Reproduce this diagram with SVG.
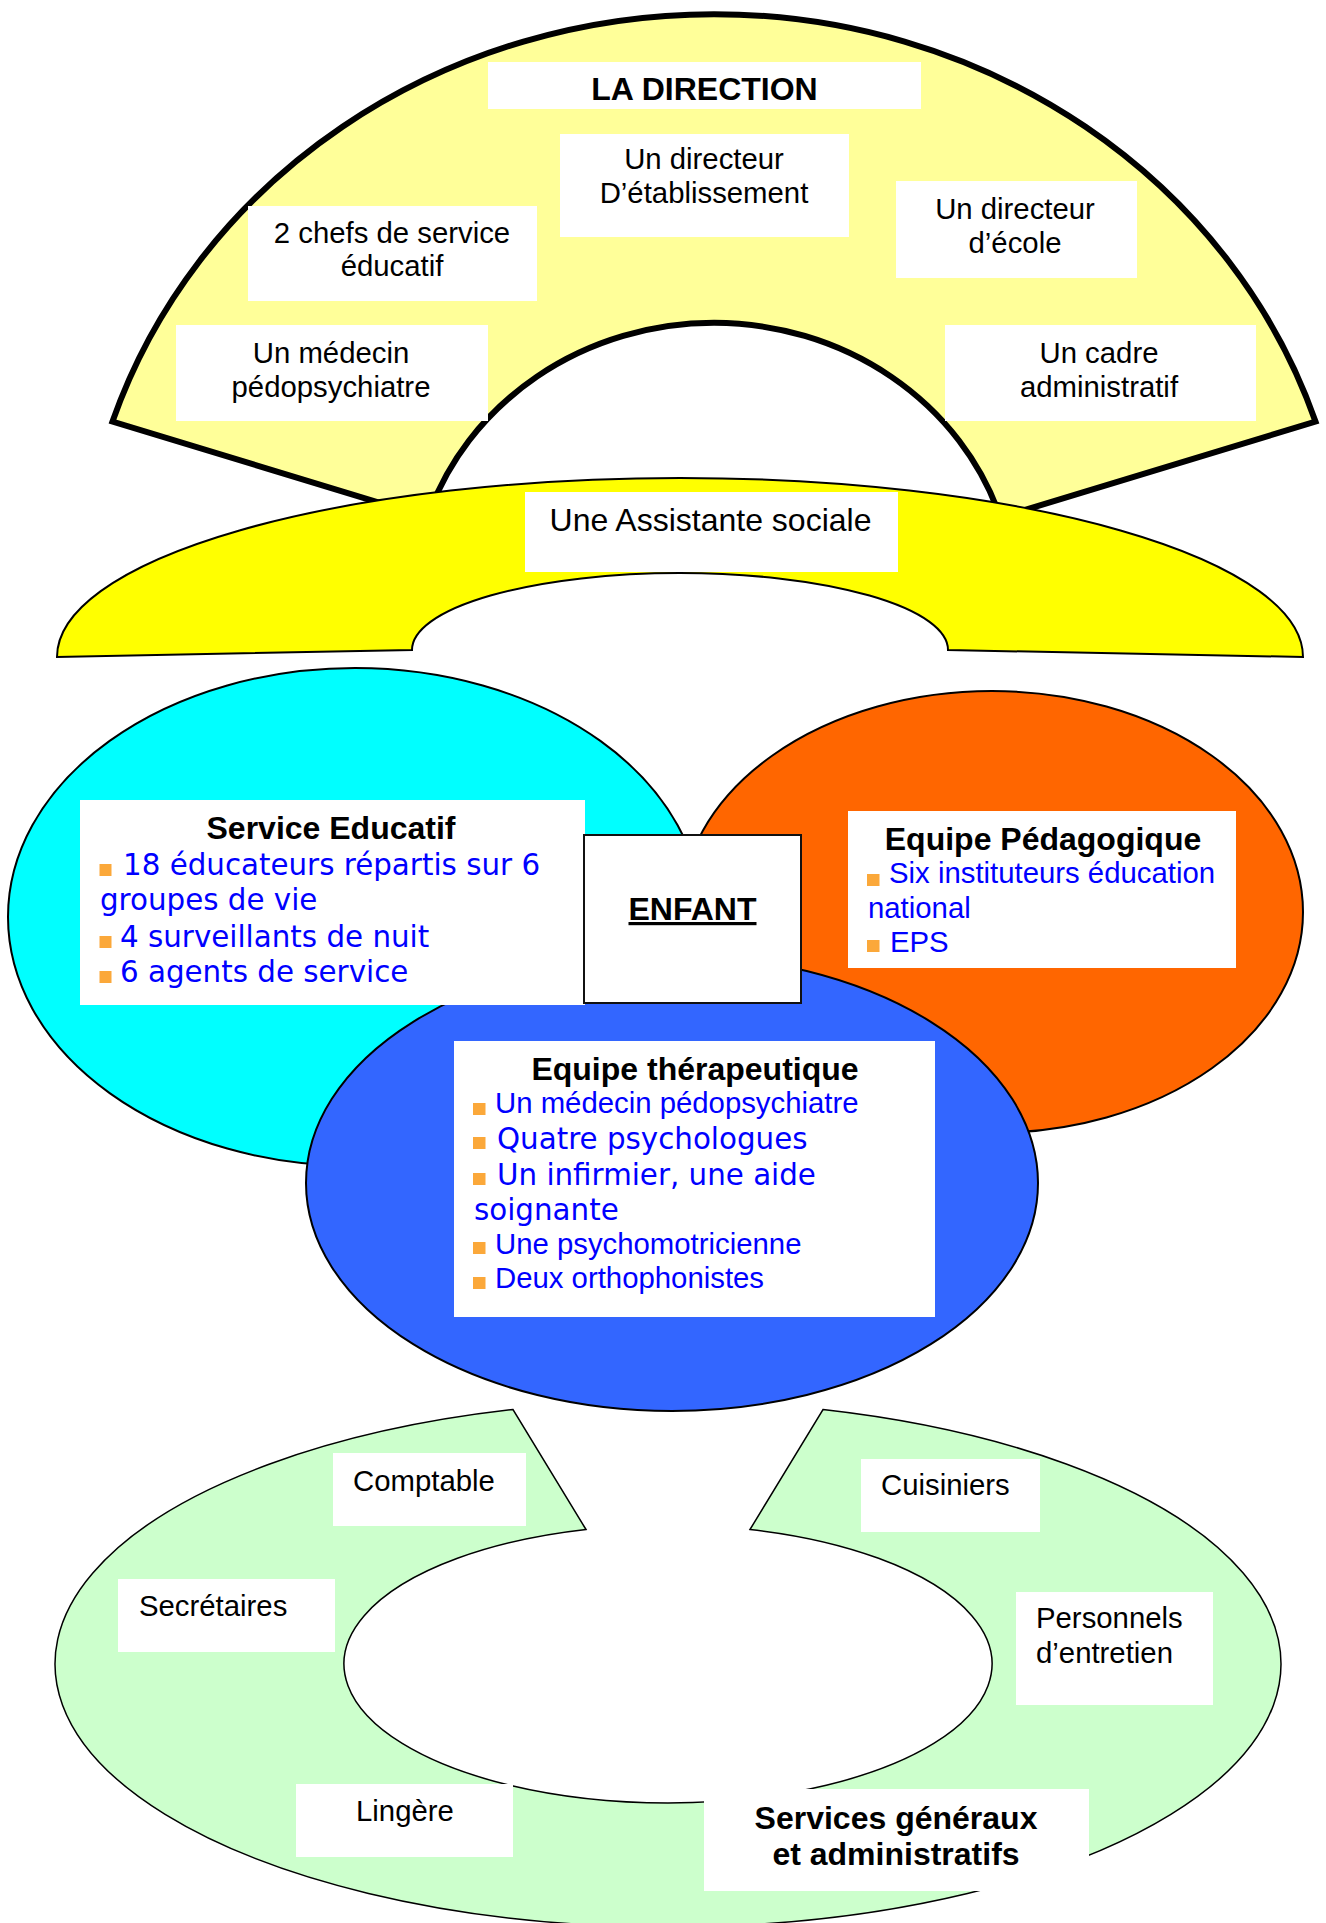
<svg xmlns="http://www.w3.org/2000/svg" width="1326" height="1923" viewBox="0 0 1326 1923">
<style>
.box{fill:#ffffff}
.t{font-family:"Liberation Sans",Arial,Helvetica,sans-serif;font-size:29.33px;fill:#000000}
.c{text-anchor:middle}
.b{font-weight:bold;font-size:32px}
.blue{fill:#0000ff}
.v{font-family:"DejaVu Sans",Verdana,sans-serif;font-size:29.33px}
.bul{fill:#fba83a}
.thin{stroke:#000000;stroke-width:2}
</style>
<rect width="1326" height="1923" fill="#ffffff"/>

<g id="direction">
  <path d="M112.5,421.6 A632.8,591 0 0 1 1315.5,421.6 L1000.4,517.4 A301,281 0 0 0 427.6,517.4 Z" fill="#ffff99" stroke="#000000" stroke-width="6" stroke-linejoin="miter"/>
</g>

<g id="assistante">
  <path d="M57,657 A623,179 0 0 1 1303,657 L948,650 A268,77 0 0 0 412,650 Z" fill="#ffff00" class="thin"/>
</g>

<g id="direction-labels">
  <g id="la-direction">
    <rect class="box" x="488" y="62" width="433" height="47"/>
    <text class="t c b" x="704.5" y="100">LA DIRECTION</text>
  </g>
  <g id="directeur-etablissement">
    <rect class="box" x="560" y="134" width="289" height="103"/>
    <text class="t c" x="704" y="169.3">Un directeur</text>
    <text class="t c" x="704" y="203.3">D’établissement</text>
  </g>
  <g id="chefs-service">
    <rect class="box" x="248" y="206" width="289" height="95"/>
    <text class="t c" x="392" y="243">2 chefs de service</text>
    <text class="t c" x="392" y="276">éducatif</text>
  </g>
  <g id="directeur-ecole">
    <rect class="box" x="896" y="181" width="241" height="97"/>
    <text class="t c" x="1015" y="219">Un directeur</text>
    <text class="t c" x="1015" y="253">d’école</text>
  </g>
  <g id="medecin">
    <rect class="box" x="176" y="325" width="312" height="96"/>
    <text class="t c" x="331" y="363">Un médecin</text>
    <text class="t c" x="331" y="397">pédopsychiatre</text>
  </g>
  <g id="cadre">
    <rect class="box" x="945" y="325" width="311" height="96"/>
    <text class="t c" x="1099" y="363">Un cadre</text>
    <text class="t c" x="1099" y="397">administratif</text>
  </g>
  <g id="assistante-label">
    <rect class="box" x="525" y="492" width="373" height="80"/>
    <text class="t c" x="710.5" y="531" style="font-size:32px">Une Assistante sociale</text>
  </g>
</g>

<g id="service-educatif">
  <ellipse cx="355" cy="917" rx="347" ry="249" fill="#00ffff" class="thin" stroke-width="1.5"/>
</g>
<g id="equipe-pedagogique">
  <ellipse cx="992" cy="912" rx="311" ry="221" fill="#ff6600" class="thin" stroke-width="1.5"/>
</g>
<g id="equipe-therapeutique">
  <ellipse cx="672" cy="1183" rx="366" ry="228" fill="#3366ff" class="thin" stroke-width="1.5"/>
</g>

<g id="service-educatif-label">
  <rect class="box" x="80" y="800" width="505" height="205"/>
  <text class="t c b" x="331" y="839">Service Educatif</text>
  <rect class="bul" x="99.5" y="864" width="12" height="12"/>
  <text class="v blue" x="123" y="875">18 éducateurs répartis sur 6</text>
  <text class="v blue" x="100" y="910">groupes de vie</text>
  <rect class="bul" x="99.5" y="936" width="12" height="12"/>
  <text class="v blue" x="120" y="947">4 surveillants de nuit</text>
  <rect class="bul" x="99.5" y="971" width="12" height="12"/>
  <text class="v blue" x="120" y="982">6 agents de service</text>
</g>

<g id="equipe-pedagogique-label">
  <rect class="box" x="848" y="811" width="388" height="157"/>
  <text class="t c b" x="1043" y="850">Equipe Pédagogique</text>
  <rect class="bul" x="867" y="874" width="12.5" height="12"/>
  <text class="t blue" x="889" y="883">Six instituteurs éducation</text>
  <text class="t blue" x="868" y="918">national</text>
  <rect class="bul" x="867" y="940" width="12.5" height="12"/>
  <text class="t blue" x="890" y="952">EPS</text>
</g>

<g id="enfant">
  <rect x="584" y="835" width="217" height="168" fill="#ffffff" stroke="#111111" stroke-width="2"/>
  <text class="t c b" x="692.5" y="920" text-decoration="underline">ENFANT</text>
</g>

<g id="equipe-therapeutique-label">
  <rect class="box" x="454" y="1041" width="481" height="276"/>
  <text class="t c b" x="695" y="1080">Equipe thérapeutique</text>
  <rect class="bul" x="473" y="1103" width="12.5" height="12"/>
  <text class="t blue" x="495" y="1113">Un médecin pédopsychiatre</text>
  <rect class="bul" x="473" y="1137" width="12.5" height="12"/>
  <text class="v blue" x="497" y="1149">Quatre psychologues</text>
  <rect class="bul" x="473" y="1173" width="12.5" height="12"/>
  <text class="v blue" x="497" y="1185">Un infirmier, une aide</text>
  <text class="v blue" x="474" y="1220">soignante</text>
  <rect class="bul" x="473" y="1242" width="12.5" height="12"/>
  <text class="t blue" x="495" y="1254">Une psychomotricienne</text>
  <rect class="bul" x="473" y="1277" width="12.5" height="12"/>
  <text class="t blue" x="495" y="1288">Deux orthophonistes</text>
</g>

<g id="services-generaux">
  <path d="M586,1529.5 L513,1409.5 A613,263 0 1 0 823,1409.5 L750,1529.5 A324,139 0 1 1 586,1529.5 Z" fill="#ccffcc" stroke="#000000" stroke-width="1.5" stroke-linejoin="miter"/>
</g>

<g id="services-labels">
  <g id="comptable">
    <rect class="box" x="333" y="1453" width="193" height="73"/>
    <text class="t" x="353" y="1491">Comptable</text>
  </g>
  <g id="secretaires">
    <rect class="box" x="118" y="1579" width="217" height="73"/>
    <text class="t" x="139" y="1616">Secrétaires</text>
  </g>
  <g id="lingere">
    <rect class="box" x="296" y="1784" width="217" height="73"/>
    <text class="t" x="356" y="1821">Lingère</text>
  </g>
  <g id="cuisiniers">
    <rect class="box" x="861" y="1459" width="179" height="73"/>
    <text class="t" x="881" y="1495">Cuisiniers</text>
  </g>
  <g id="personnels">
    <rect class="box" x="1016" y="1592" width="197" height="113"/>
    <text class="t" x="1036" y="1628">Personnels</text>
    <text class="t" x="1036" y="1663">d’entretien</text>
  </g>
  <g id="services-titre">
    <rect class="box" x="704" y="1789" width="385" height="102"/>
    <text class="t c b" x="896" y="1829">Services généraux</text>
    <text class="t c b" x="896" y="1865">et administratifs</text>
  </g>
</g>

<g id="connectors"></g>
</svg>
